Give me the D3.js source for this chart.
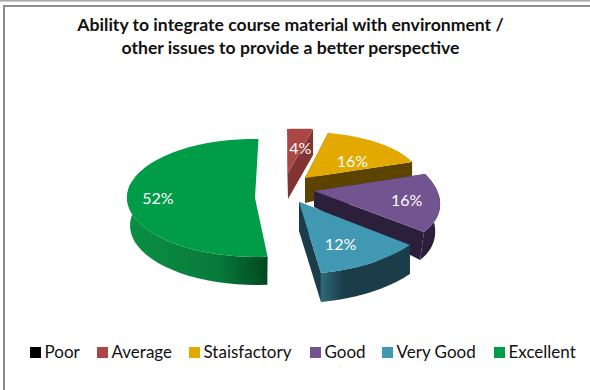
<!DOCTYPE html>
<html><head><meta charset="utf-8">
<script src="https://cdn.jsdelivr.net/npm/d3@7"></script>
<style>html,body{margin:0;padding:0;background:#fff}svg{display:block}text{font-family:Lato,"Open Sans",sans-serif}</style>
</head><body>
<script>
const titleLines = ["Ability to integrate course material with environment /","other issues to provide a better perspective"];
const categories = ["Poor","Average","Staisfactory","Good","Very Good","Excellent"];
const values = [0,4,16,16,12,52];
const colors = ["#000000","#aa4643","#e2a900","#725490","#4198b2","#009c47"];
const sideColors = ["#000000","#823432","#5c4400","#2c1f3c","#1b3d49","#00612c"];
const rimLeft = ["#000000","#823432","#5c4400","#2c1f3c","#2f6a7c","#0a8f44"];
const rimMid = ["#000000","#823432","#5c4400","#2c1f3c","#1b3d49","#087a3a"];
const rimRight = ["#000000","#823432","#5c4400","#2c1f3c","#1b3d49","#00481f"];
const rimMidStop = [0.5,0.5,0.5,0.5,0.25,0.65];
const legendX = [30,97,189,310,382,494];
const labelShift = [[0,0],[4,11],[-3,13],[7,6],[-7,6],[-10,5]];
// per-slice projection of the unit pie: origin x,y then 2x2 matrix; each exploded slice has its own perspective
const projections = [
  [255,198,128,1,0,59],[288,173,104.6,4.66,-7.1,43.8],[305,178,114.1,9.56,-3.46,45.9],
  [314,191,123.2,26.8,0,61.7],[299,202,140,9.3,-6.3,71.8],[255,198,128,1,0,59]];
// extrusion depth: base, sin term, -cos term, x-shift on sin term
const depths = [[28,0,0,0],[26,0,0,0],[25,-10.4,0,0],[16,9.6,7.2,-5],[29,0,0,0],[28,0,0,-3]];
const W=590,H=390;
const svg=d3.select("body").append("svg").attr("width",W).attr("height",H);
const defs=svg.append("defs");
// frame
svg.append("rect").attr("x",0).attr("y",0).attr("width",W).attr("height",1.6).attr("fill","#aaaaaa");
svg.append("path").attr("d",`M${W+3},6H4V${H+3}`).attr("fill","none").attr("stroke","#8c8c8c").attr("stroke-width",2);
// title
svg.append("g").selectAll("text").data(titleLines).join("text")
  .attr("x",290.5).attr("y",(d,i)=>31+i*22.5).attr("text-anchor","middle")
  .attr("font-size",17.6).attr("font-weight",700).attr("fill","#111").text(d=>d);
const pie=d3.pie().sort(null).value(d=>d).startAngle(2*Math.PI/180).endAngle(362*Math.PI/180);
const arcs=pie(values);
const rimTop=(i,t)=>{const p=projections[i],s=Math.sin(t),c=-Math.cos(t);return [p[0]+p[2]*s+p[3]*c,p[1]+p[4]*s+p[5]*c];};
const rimBot=(i,t)=>{const q=rimTop(i,t),d=depths[i],s=Math.sin(t),c=-Math.cos(t);return [q[0]+d[3]*s,q[1]+d[0]+d[1]*s+d[2]*c];};
const apex=i=>[projections[i][0],projections[i][1]];
const apexB=i=>[projections[i][0],projections[i][1]+depths[i][0]];
const line=d3.line();
const steps=(a)=>d3.range(0,41).map(k=>a.startAngle+(a.endAngle-a.startAngle)*k/40);
const order=[1,2,3,4,5];
order.forEach(i=>{
  const a=arcs[i];const g=svg.append("g");
  const ts=steps(a);
  const front=ts.filter(t=>-Math.cos(t)>-0.3);
  const gid="rim"+i;
  const gr=defs.append("linearGradient").attr("id",gid).attr("gradientUnits","userSpaceOnUse");
  const xs=ts.map(t=>rimTop(i,t)[0]);
  gr.attr("x1",d3.min(xs)).attr("x2",d3.max(xs)).attr("y1",0).attr("y2",0);
  gr.append("stop").attr("offset",0).attr("stop-color",rimLeft[i]);
  gr.append("stop").attr("offset",rimMidStop[i]).attr("stop-color",rimMid[i]);
  gr.append("stop").attr("offset",1).attr("stop-color",rimRight[i]);
  // cut faces: the largest slice hides its own, the others show them
  if(i!==5)[a.startAngle,a.endAngle].forEach(t=>{
    g.append("path").attr("d",line([apex(i),rimTop(i,t),rimBot(i,t),apexB(i)])+"Z").attr("fill",sideColors[i]);
  });
  // outer rim, only where it faces the viewer
  if(front.length)g.append("path").attr("d",line(front.map(t=>rimTop(i,t)).concat(front.slice().reverse().map(t=>rimBot(i,t))))+"Z").attr("fill",`url(#${gid})`);
  // top face
  g.append("path").attr("d",line([apex(i)].concat(ts.map(t=>rimTop(i,t))))+"Z").attr("fill",colors[i]);
});
// labels
arcs.forEach((a,i)=>{
  if(!values[i])return;
  const m=(a.startAngle+a.endAngle)/2,q=rimTop(i,m),o=apex(i);
  svg.append("text").attr("x",o[0]+(q[0]-o[0])*0.68+labelShift[i][0]).attr("y",o[1]+(q[1]-o[1])*0.68+labelShift[i][1])
    .attr("text-anchor","middle").attr("font-size",16).attr("fill","#fff").text(values[i]+"%");
});
// legend
const lg=svg.append("g").selectAll("g").data(categories).join("g").attr("transform",(d,i)=>`translate(${legendX[i]},347)`);
lg.append("rect").attr("width",11).attr("height",11).attr("fill",(d,i)=>colors[i]);
lg.append("text").attr("x",14.5).attr("y",11).attr("font-size",17).attr("fill","#111").text(d=>d);
</script>
</body></html>
